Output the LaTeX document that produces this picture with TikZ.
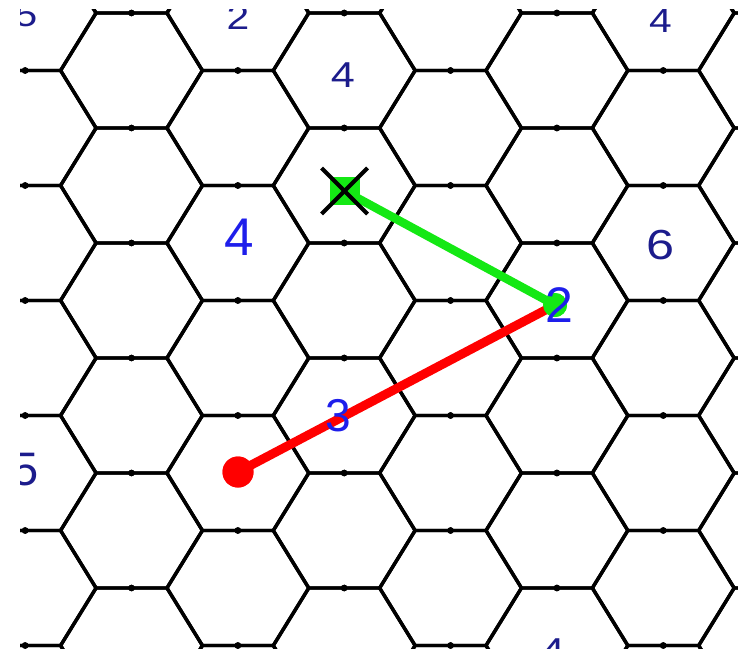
\documentclass[tikz,border=0pt]{standalone}
\usepackage{fontspec}
\setmainfont{Liberation Sans}
\definecolor{navyc}{RGB}{28,28,140}
\definecolor{bluec}{RGB}{30,30,235}
\definecolor{greenc}{RGB}{20,232,20}
\definecolor{redc}{RGB}{255,0,0}
\newcommand{\wide}[1]{\scalebox{1.2}[1]{#1}}
\tikzset{
  hexedge/.style={draw=black, line width=3.4pt},
  edgedot/.style={fill=black},
  navylbl/.style={text=navyc, inner sep=0pt},
  bluelbl/.style={text=bluec, inner sep=0pt},
  gsq/.style={rectangle, fill=greenc, minimum width=30pt, minimum height=28pt, inner sep=0pt},
  gdot/.style={circle, fill=greenc, minimum size=24pt, inner sep=0pt},
  rdot/.style={circle, fill=redc, minimum size=31pt, inner sep=0pt},
  greenline/.style={draw=greenc, line width=8.5pt},
  redline/.style={draw=redc, line width=9pt},
  xmark/.style={draw=black, line width=4pt}
}
\begin{document}
\begin{tikzpicture}[x=1pt,y=-1pt]
\useasboundingbox (0,0) rectangle (738,648);
\begin{scope}
\clip (20,9) rectangle (738,648);
% hex grid
\def\s{70.9}
\def\h{57.5}
\foreach \c in {-1,...,6}{
  \pgfmathsetmacro\cx{131.5+106.35*\c}
  \pgfmathsetmacro\cyz{mod(\c+2,2)==0 ? 70.5 : 13}
  \foreach \k in {-1,...,6}{
    \pgfmathsetmacro\cy{\cyz+115*\k}
    \draw[hexedge] ({\cx-\s},\cy) -- ({\cx-\s/2},{\cy-\h}) -- ({\cx+\s/2},{\cy-\h})
      -- ({\cx+\s},\cy) -- ({\cx+\s/2},{\cy+\h}) -- ({\cx-\s/2},{\cy+\h}) -- cycle;
    \fill[edgedot] (\cx,{\cy-\h}) circle (3.3pt);
    \fill[edgedot] (\cx,{\cy+\h}) circle (3.3pt);
  }
}
% path
\node[gsq] (sq) at (344.5,191) {};
\node[gdot] (gd) at (555,305) {};
\node[rdot] (rd) at (238,472) {};
\draw[greenline] (sq.center) -- (gd.center);
\draw[redline] (rd.center) -- (gd.center);
\node[gsq] at (sq.center) {};
\node[gdot] at (gd.center) {};
\node[rdot] at (rd.center) {};
\draw[xmark] (sq.center) ++(-23,-23) -- ++(46,46);
\draw[xmark] (sq.center) ++(-23,23) -- ++(46,-46);
% labels
\node[navylbl, font=\fontsize{34}{38}\selectfont] (l1) at (26,15) {\wide{5}};
\node[navylbl, font=\fontsize{34}{38}\selectfont] (l2) at (238,18) {\wide{2}};
\node[navylbl, font=\fontsize{34}{38}\selectfont] (l3) at (660.5,21) {\wide{4}};
\node[navylbl, font=\fontsize{36}{40}\selectfont] (l4) at (343,75) {\wide{4}};
\node[navylbl, font=\fontsize{42}{46}\selectfont] (l5) at (661,245) {\wide{6}};
\node[navylbl, font=\fontsize{47}{52}\selectfont] (l6) at (26,470) {5};
\node[navylbl, font=\fontsize{36}{40}\selectfont] (l7) at (553,651) {\wide{4}};
\node[bluelbl, font=\fontsize{53}{58}\selectfont] (b1) at (239.5,237) {4};
\node[bluelbl, font=\fontsize{50}{55}\selectfont] (b2) at (559,305) {2};
\node[bluelbl, font=\fontsize{46}{50}\selectfont] (b3) at (338,416) {3};
\end{scope}
\end{tikzpicture}
\end{document}
